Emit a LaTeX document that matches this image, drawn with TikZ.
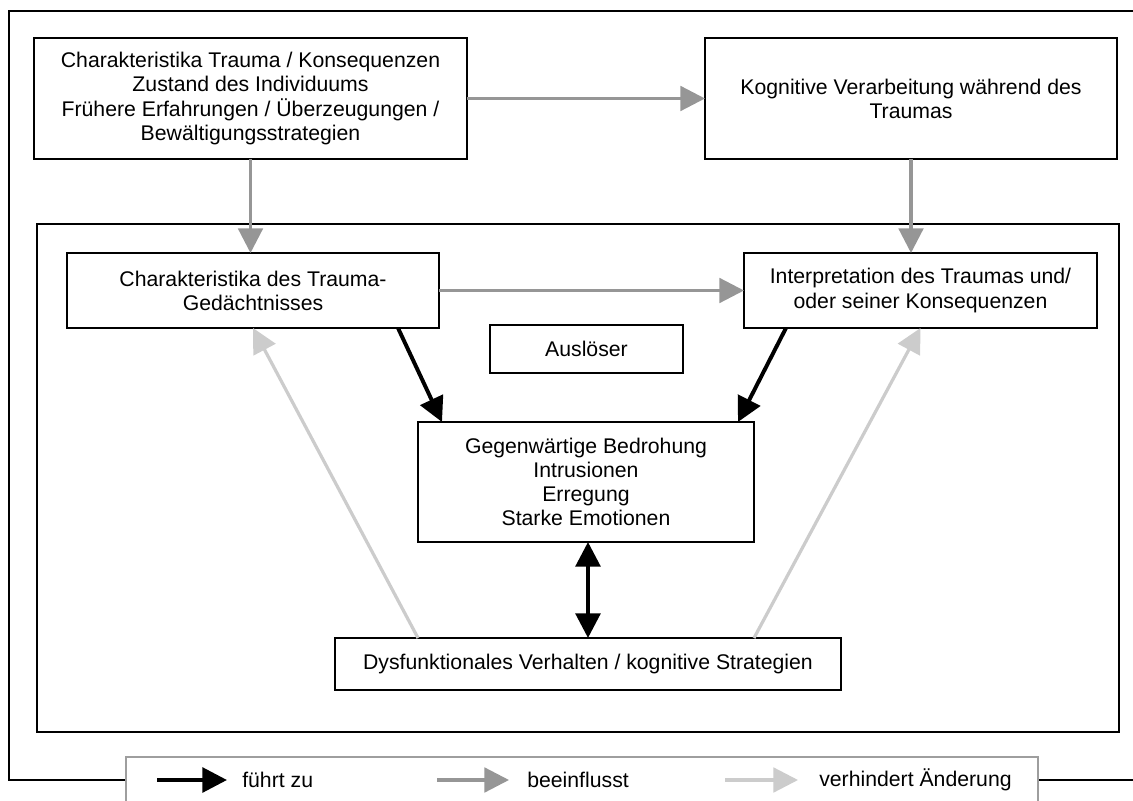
\documentclass[tikz,border=0pt]{standalone}
\usepackage{fontspec}
\setmainfont{Liberation Sans}
\usetikzlibrary{arrows.meta, calc, positioning}
\def\px{0.025cm}
\def\boxlinewidth{1.3pt}
\def\framelinewidth{1.3pt}
\def\leadslinewidth{2.8pt}
\def\influenceslinewidth{2.3pt}
\def\preventslinewidth{2.3pt}
\def\tiplength{17.5pt}
\def\tipwidth{17.5pt}
\def\legendy{780}
\definecolor{influencescolor}{gray}{0.59}
\definecolor{preventscolor}{gray}{0.80}
\definecolor{legenddrawcolor}{gray}{0.62}
\tikzset{
	% texts
	box_text/.style={
		font=\fontsize{15.1pt}{17.1pt}\selectfont,
		align=center,
	},
	% boxes
	module/.style={
		draw=black,
		line width=\boxlinewidth,
		box_text,
		shape=rectangle,
		inner sep=0pt,
		outer sep=0pt,
	},
	% frames
	frame/.style={
		draw=black,
		line width=\framelinewidth,
	},
	% legend
	legend_box/.style={
		draw=legenddrawcolor,
		fill=white,
		line width=\boxlinewidth,
		shape=rectangle,
		inner sep=0pt,
		outer sep=0pt,
	},
	legend_text/.style={
		box_text,
		inner sep=0pt,
	},
	% connections
	leads_to/.style={
		line width=\leadslinewidth,
		draw=black,
		-{Triangle[length=\tiplength, width=\tipwidth]},
	},
	influences/.style={
		line width=\influenceslinewidth,
		draw=influencescolor,
		-{Triangle[length=\tiplength, width=\tipwidth]},
	},
	prevents/.style={
		line width=\preventslinewidth,
		draw=preventscolor,
		-{Triangle[length=\tiplength, width=\tipwidth]},
	},
}
\begin{document}
\begin{tikzpicture}[x=\px, y=-\px]
		\useasboundingbox (0,0) rectangle (1133,801);
		\clip (0,0) rectangle (1133,801);

		% Outer frame
		\draw[frame] (9,11) rectangle (1170,\legendy);

		% Trauma and processing
		\node[
			module,
			anchor=north west,
			minimum width=433*\px,
			minimum height=121*\px,
		] (trauma) at (34,38) {Charakteristika Trauma / Konsequenzen\\Zustand des Individuums\\Frühere Erfahrungen / Überzeugungen /\\Bewältigungsstrategien};
		\node[
			module,
			anchor=north west,
			minimum width=412*\px,
			minimum height=121*\px,
		] (processing) at (705,38) {Kognitive Verarbeitung während des\\Traumas};

		% Inner frame
		\node[
			frame,
			shape=rectangle,
			inner sep=0pt,
			anchor=north west,
			minimum width=1082*\px,
			minimum height=508*\px,
		] (disorder) at (36,223) {};

		%% Memory and interpretation
		\node[
			module,
			anchor=north west,
			minimum width=372*\px,
			minimum height=75*\px,
		] (memory) at (67,253) {Charakteristika des Trauma-\\Gedächtnisses};
		\node[
			module,
			anchor=north west,
			minimum width=353*\px,
			minimum height=75*\px,
		] (interpretation) at (744,253) {Interpretation des Traumas und/\\oder seiner Konsequenzen};

		%% Trigger
		\node[
			module,
			anchor=north west,
			minimum width=193*\px,
			minimum height=48*\px,
		] (trigger) at (490,325) {Auslöser};

		%% Current threat
		\node[
			module,
			anchor=north west,
			minimum width=336*\px,
			minimum height=120*\px,
		] (threat) at (418,422) {Gegenwärtige Bedrohung\\Intrusionen\\Erregung\\Starke Emotionen};

		%% Behaviour
		\node[
			module,
			anchor=north west,
			minimum width=506*\px,
			minimum height=52*\px,
		] (behaviour) at (335,638) {Dysfunktionales Verhalten / kognitive Strategien};

		% Influences
		\draw[influences] (trauma) -- (processing);
		\draw[influences] (trauma.south) -- (trauma.south |- memory.north);
		\draw[influences] (processing.south) -- (processing.south |- interpretation.north);
		\draw[influences] (memory) -- (interpretation);

		% Leads to
		\draw[leads_to] ($(memory.south east)+(-41,0)$) -- ($(threat.north west)+(24,0)$);
		\draw[leads_to] ($(interpretation.south west)+(42,0)$) -- ($(threat.north east)+(-16,0)$);
		\draw[
			leads_to,
			{Triangle[length=\tiplength, width=\tipwidth]}-{Triangle[length=\tiplength, width=\tipwidth]},
		] ($(threat.south)+(2,0)$) -- ($(threat.south |- behaviour.north)+(2,0)$);

		% Prevents change
		\draw[prevents] (behaviour.north -| threat.west) -- (memory.south);
		\draw[prevents] (behaviour.north -| threat.east) -- (interpretation.south);

		% Legend
		\node[
			legend_box,
			anchor=north west,
			minimum width=912*\px,
			minimum height=80*\px,
		] (legend) at (126,757) {};
		\foreach \kind/\kindlabel/\xa/\xb/\xc in {
			leads_to/führt zu/157/227/242,
			influences/beeinflusst/437/509/527,
			prevents/verhindert Änderung/725/798/819} {
			\coordinate (\kind_start) at (\xa,\legendy);
			\coordinate (\kind_end) at (\xb,\legendy);
			\draw[\kind] (\kind_start) -- (\kind_end);
			\node[
				legend_text,
				anchor=west,
			] (\kind_label) at (\xc,\legendy) {\kindlabel};
		}
	\end{tikzpicture}
\end{document}
